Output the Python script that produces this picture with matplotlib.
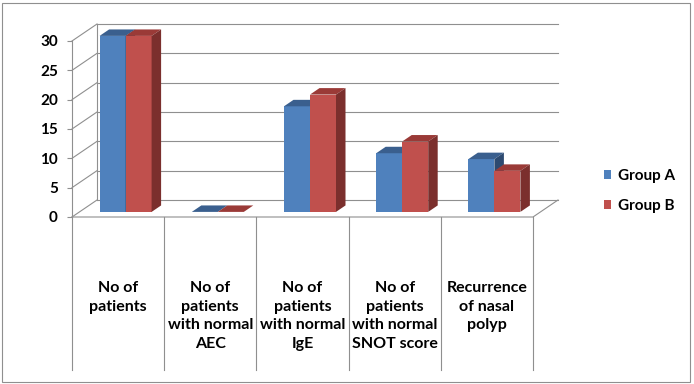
import numpy as np
import matplotlib.pyplot as plt
from matplotlib.patches import Polygon, Rectangle

categories = ["No of\npatients",
              "No of\npatients\nwith normal\nAEC",
              "No of\npatients\nwith normal\nIgE",
              "No of\npatients\nwith normal\nSNOT score",
              "Recurrence\nof nasal\npolyp"]
group_a = [30, 0, 18, 10, 9]
group_b = [30, 0, 20, 12, 7]
series_names = ["Group A", "Group B"]
y_ticks = [0, 5, 10, 15, 20, 25, 30]

front_cols = ["#4F81BD", "#C0504D"]
top_cols = ["#3A5F8E", "#9A3A37"]
side_cols = ["#2D4A70", "#7B2F2D"]
grid_col = "#8F8F8F"

plt.rcParams['font.family'] = ['Lato', 'DejaVu Sans']
plt.rcParams['font.weight'] = 'bold'
FS = 11

W, H = 694, 384
fig = plt.figure(figsize=(W / 100, H / 100), dpi=100)

# front plane of the 3d box, pixel positions
px_l, px_r = 72, 533
px_b, px_t = 217, 41
ax = fig.add_axes([px_l / W, 1 - px_b / H, (px_r - px_l) / W, (px_b - px_t) / H])
n = len(categories)
ymax = 30
ax.set_xlim(0, n)
ax.set_ylim(0, ymax)

# depth of the box (25 px right, 17 px up) in data units
DX = 25 * n / (px_r - px_l)
DY = 17 * ymax / (px_b - px_t)

lw = 0.8
# back wall grid lines + left wall diagonals
for v in y_ticks:
    ax.plot([DX, n + DX], [v + DY, v + DY], color=grid_col, lw=lw, clip_on=False, zorder=1)
    ax.plot([0, DX], [v, v + DY], color=grid_col, lw=lw, clip_on=False, zorder=1)
ax.plot([DX, DX], [DY, ymax + DY], color=grid_col, lw=lw, clip_on=False, zorder=1)
# floor
ax.plot([0, n, n + DX], [0, 0, DY], color=grid_col, lw=lw, clip_on=False, zorder=1)

# bars
bw = 26 * n / (px_r - px_l)
f0, f1 = 0.3, 0.68
sx, sy = f0 * DX, f0 * DY
ddx, ddy = (f1 - f0) * DX, (f1 - f0) * DY
xs = np.arange(n) + 0.5
handles = []
for k, vals in enumerate([group_a, group_b]):
    left = xs - bw + k * bw + sx
    bars = ax.bar(left, vals, width=bw, bottom=sy, align='edge',
                  color=front_cols[k], edgecolor='none', zorder=3 + k,
                  clip_on=False, label=series_names[k])
    handles.append(bars)
    for xl, h in zip(left, vals):
        xr = xl + bw
        top = h + sy
        ax.add_patch(Polygon([(xl, top), (xr, top), (xr + ddx, top + ddy), (xl + ddx, top + ddy)],
                             closed=True, facecolor=top_cols[k], edgecolor='none',
                             zorder=3 + k, clip_on=False))
        ax.add_patch(Polygon([(xr, sy), (xr + ddx, sy + ddy), (xr + ddx, top + ddy), (xr, top)],
                             closed=True, facecolor=side_cols[k], edgecolor='none',
                             zorder=3 + k, clip_on=False))

# axis
for s in ['top', 'right', 'bottom']:
    ax.spines[s].set_visible(False)
ax.spines['left'].set_color(grid_col)
ax.spines['left'].set_linewidth(lw)
ax.set_xticks([])
ax.set_yticks(y_ticks)
ax.tick_params(axis='y', direction='out', length=3.6, width=lw, color=grid_col,
               pad=6.5, labelsize=FS, labelcolor='black')
ax.set_facecolor('none')

# category table below the floor
tb = -(370 - px_b) / (px_b - px_t)
xt = ax.get_xaxis_transform()
for i in range(n + 1):
    ax.plot([i, i], [0, tb], color=grid_col, lw=lw, transform=xt, clip_on=False)
lab_y = -(281 - px_b) / (px_b - px_t)
for x, lab in zip(xs, categories):
    ax.text(x, lab_y, lab, transform=xt, ha='center', va='top', fontsize=11.5,
            linespacing=1.42, color='black')

# legend
ax.legend(handles=handles, loc='center left', bbox_to_anchor=(604 / W, 1 - 191 / H),
          bbox_transform=fig.transFigure, frameon=False, fontsize=FS,
          handlelength=0.45, handleheight=0.45, handletextpad=0.45,
          labelspacing=1.05, borderpad=0, borderaxespad=0)

# chart border
fig.patches.append(Rectangle((2 / W, 2 / H), 688 / W, 379 / H, transform=fig.transFigure,
                             facecolor='none', edgecolor=grid_col, lw=lw))

fig.savefig('out.png', dpi=100)
